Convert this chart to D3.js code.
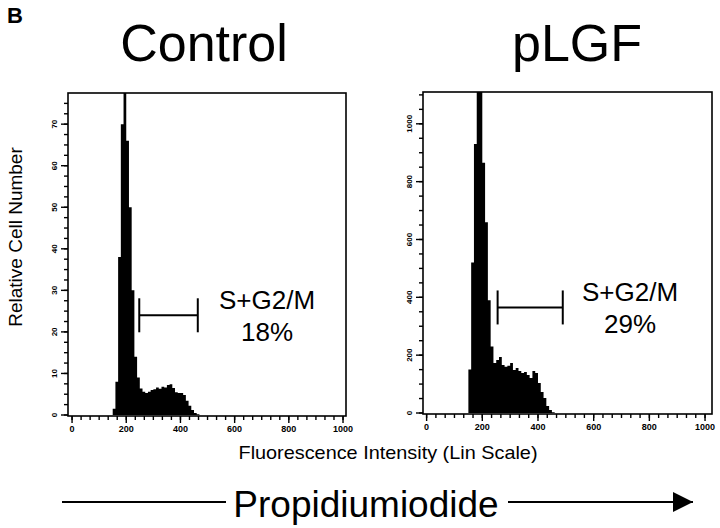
<!DOCTYPE html>
<html>
<head>
<meta charset="utf-8">
<script src="https://cdn.jsdelivr.net/npm/d3@7"></script>
<style>
  html, body { margin: 0; padding: 0; background: #fff; }
  svg { display: block; font-family: "Liberation Sans", Arial, Helvetica, sans-serif; }
</style>
</head>
<body>
<div id="chart"></div>
<script>
// histogram bins (channel start, width 10)
const binStarts = [150, 160, 170, 180, 190, 200, 210, 220, 230, 240, 250, 260, 270, 280, 290, 300,
                   310, 320, 330, 340, 350, 360, 370, 380, 390, 400, 410, 420, 430, 440, 450, 460];
const binWidth = 10;

// counts
const controlCounts = [1.5, 8, 38, 70, 82, 66, 50, 30, 14, 9, 6.4, 5.6, 5.3, 5.6, 6, 6.2,
                       6.6, 6.3, 6.8, 6.6, 7.2, 7.4, 6.5, 5.5, 5.3, 5.3, 4.8, 3.4, 2.2, 1.2, 0.5, 0.2];
const plgfCounts = [150, 520, 930, 1150, 1200, 865, 660, 390, 230, 173, 183, 194, 166, 160, 163, 173,
                    149, 156, 145, 138, 142, 131, 121, 145, 138, 104, 73, 52, 24, 10, 3, 0];

const xTickValues = [0, 200, 400, 600, 800, 1000];
const controlYTicks = [0, 10, 20, 30, 40, 50, 60, 70];
const plgfYTicks = [0, 200, 400, 600, 800, 1000];

const panelTitles = ["Control", "pLGF"];
const gateRanges = [[248, 464], [255, 489]];
const gateLevels = [24, 365];
const gateLabels = ["S+G2/M", "S+G2/M"];
const gatePercents = ["18%", "29%"];

//size
const width = 720, height = 528;

const svg = d3.select("#chart").append("svg")
  .attr("width", width)
  .attr("height", height);

//panel layout
const panels = [
  {
    title: panelTitles[0], counts: controlCounts, yTicks: controlYTicks, ySub: 2.5,
    gate: gateRanges[0], gateY: gateLevels[0], label: gateLabels[0], pct: gatePercents[0],
    left: 68, right: 346, top: 93, bottom: 416,
    xDomain: [-15, 1011], yDomain: [0, 77.5], titleX: 204, textX: 267
  },
  {
    title: panelTitles[1], counts: plgfCounts, yTicks: plgfYTicks, ySub: 50,
    gate: gateRanges[1], gateY: gateLevels[1], label: gateLabels[1], pct: gatePercents[1],
    left: 423, right: 712, top: 92, bottom: 414,
    xDomain: [-13, 1025], yDomain: [0, 1110], titleX: 577, textX: 630
  }
];

panels.forEach((p, i) => drawPanel(p, i));

function drawPanel(p, i) {
  const x = d3.scaleLinear().domain(p.xDomain).range([p.left, p.right]);
  const y = d3.scaleLinear().domain(p.yDomain).range([p.bottom - 1, p.top]);
  const g = svg.append("g");

  //title
  g.append("text")
    .attr("x", p.titleX)
    .attr("y", 61)
    .attr("text-anchor", "middle")
    .attr("font-size", 52)
    .text(p.title);

  //clip
  const clipId = "clip" + i;
  svg.append("clipPath").attr("id", clipId)
    .append("rect")
    .attr("x", p.left).attr("y", p.top)
    .attr("width", p.right - p.left).attr("height", p.bottom - p.top);

  //histogram
  const bins = binStarts.map((b, k) => ({ x0: b, v: p.counts[k] }));
  bins.push({ x0: binStarts[binStarts.length - 1] + binWidth, v: 0 });
  const area = d3.area()
    .curve(d3.curveStepAfter)
    .x((d) => x(d.x0))
    .y0(y(0))
    .y1((d) => y(d.v));
  g.append("path")
    .attr("clip-path", `url(#${clipId})`)
    .attr("fill", "#000")
    .attr("d", area(bins));

  //frame
  g.append("rect")
    .attr("x", p.left).attr("y", p.top)
    .attr("width", p.right - p.left).attr("height", p.bottom - p.top)
    .attr("fill", "none")
    .attr("stroke", "#000")
    .attr("stroke-width", 1.6);

  //x ticks
  const xMinor = d3.range(0, 1001, 200 / 6);
  g.selectAll("line.xminor").data(xMinor).join("line")
    .attr("class", "xminor")
    .attr("x1", (d) => x(d)).attr("x2", (d) => x(d))
    .attr("y1", p.bottom).attr("y2", p.bottom + 4)
    .attr("stroke", "#000").attr("stroke-width", 1.4);
  g.selectAll("line.xmajor").data(xTickValues).join("line")
    .attr("class", "xmajor")
    .attr("x1", (d) => x(d)).attr("x2", (d) => x(d))
    .attr("y1", p.bottom).attr("y2", p.bottom + 7)
    .attr("stroke", "#000").attr("stroke-width", 1.4);
  g.selectAll("text.xlab").data(xTickValues).join("text")
    .attr("class", "xlab")
    .attr("x", (d) => x(d))
    .attr("y", p.bottom + 16)
    .attr("text-anchor", "middle")
    .attr("font-size", 9)
    .attr("font-weight", "bold")
    .text((d) => d);

  //y ticks
  const yMax = p.yDomain[1];
  const yMinor = d3.range(0, yMax, p.ySub);
  g.selectAll("line.yminor").data(yMinor).join("line")
    .attr("class", "yminor")
    .attr("x1", p.left - 4).attr("x2", p.left)
    .attr("y1", (d) => y(d)).attr("y2", (d) => y(d))
    .attr("stroke", "#000").attr("stroke-width", 1.4);
  g.selectAll("line.ymajor").data(p.yTicks).join("line")
    .attr("class", "ymajor")
    .attr("x1", p.left - 7).attr("x2", p.left)
    .attr("y1", (d) => y(d)).attr("y2", (d) => y(d))
    .attr("stroke", "#000").attr("stroke-width", 1.4);
  g.selectAll("text.ylab").data(p.yTicks).join("text")
    .attr("class", "ylab")
    .attr("transform", (d) => `translate(${p.left - 11},${y(d)}) rotate(-90)`)
    .attr("text-anchor", "middle")
    .attr("font-size", 8)
    .attr("font-weight", "bold")
    .text((d) => d);

  //gate marker
  const gy = y(p.gateY);
  const gate = g.append("g").attr("stroke", "#000").attr("stroke-width", 2);
  gate.append("line")
    .attr("x1", x(p.gate[0])).attr("x2", x(p.gate[1]))
    .attr("y1", gy).attr("y2", gy);
  p.gate.forEach((v) => {
    gate.append("line")
      .attr("x1", x(v)).attr("x2", x(v))
      .attr("y1", gy - 17).attr("y2", gy + 17);
  });

  g.append("text")
    .attr("x", p.textX).attr("y", gy - 6)
    .attr("text-anchor", "middle")
    .attr("font-size", 26)
    .text(p.label);
  g.append("text")
    .attr("x", p.textX).attr("y", gy + 26)
    .attr("text-anchor", "middle")
    .attr("font-size", 26)
    .text(p.pct);
}

//panel letter
svg.append("text")
  .attr("x", 7).attr("y", 23)
  .attr("font-size", 22)
  .attr("font-weight", "bold")
  .text("B");

//y title
svg.append("text")
  .attr("transform", "translate(22,237) rotate(-90)")
  .attr("text-anchor", "middle")
  .attr("font-size", 19)
  .text("Relative Cell Number");

//x title
svg.append("text")
  .attr("x", 388).attr("y", 459)
  .attr("text-anchor", "middle")
  .attr("font-size", 19)
  .attr("textLength", 299)
  .attr("lengthAdjust", "spacingAndGlyphs")
  .text("Fluorescence Intensity (Lin Scale)");

//bottom arrow
svg.append("defs").append("marker")
  .attr("id", "arrow")
  .attr("viewBox", "0 0 10 10")
  .attr("refX", 10).attr("refY", 5)
  .attr("markerUnits", "userSpaceOnUse")
  .attr("markerWidth", 30).attr("markerHeight", 20)
  .attr("orient", "auto")
  .append("path")
  .attr("d", "M0,0L10,5L0,10Z")
  .attr("fill", "#000");

svg.append("line")
  .attr("x1", 62).attr("x2", 226)
  .attr("y1", 502).attr("y2", 502)
  .attr("stroke", "#000").attr("stroke-width", 2);
svg.append("text")
  .attr("x", 366).attr("y", 517)
  .attr("text-anchor", "middle")
  .attr("font-size", 37)
  .text("Propidiumiodide");
svg.append("line")
  .attr("x1", 508).attr("x2", 693)
  .attr("y1", 502).attr("y2", 502)
  .attr("stroke", "#000").attr("stroke-width", 2)
  .attr("marker-end", "url(#arrow)");
</script>
</body>
</html>
